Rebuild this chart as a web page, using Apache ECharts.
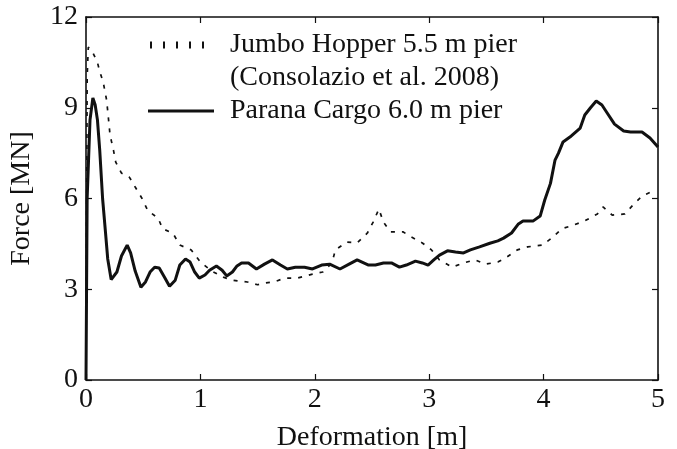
<!DOCTYPE html>
<html>
<head>
<meta charset="utf-8">
<script src="https://cdn.jsdelivr.net/npm/echarts@6/dist/echarts.min.js"></script>
<style>html,body{margin:0;padding:0;background:#fff}#c{width:677px;height:449px}</style>
</head>
<body>
<div id="c"></div>
<script>
var xTicks = [0, 1, 2, 3, 4, 5];
var yTicks = [0, 3, 6, 9, 12];
var seriesNames = ['Jumbo Hopper 5.5 m pier', 'Parana Cargo 6.0 m pier'];
var legendSubline = '(Consolazio et al. 2008)';
var xAxisTitle = 'Deformation [m]';
var yAxisTitle = 'Force [MN]';

var jumboX = [0, 0.005, 0.01, 0.02, 0.05, 0.1, 0.12, 0.15, 0.18, 0.2, 0.21, 0.24, 0.26, 0.31, 0.38, 0.43, 0.49, 0.54, 0.63, 0.67, 0.76, 0.82, 0.92, 1.0, 1.1, 1.2, 1.28, 1.41, 1.5, 1.55, 1.64, 1.74, 1.85, 1.98, 2.07, 2.15, 2.18, 2.28, 2.37, 2.46, 2.51, 2.56, 2.6, 2.66, 2.77, 2.83, 2.94, 3.02, 3.09, 3.2, 3.3, 3.4, 3.49, 3.6, 3.68, 3.77, 3.86, 3.99, 4.07, 4.16, 4.26, 4.36, 4.47, 4.52, 4.6, 4.71, 4.78, 4.86, 4.93];
var jumboY = [0, 5.0, 10.0, 11.0, 10.9, 10.5, 10.2, 9.85, 9.26, 8.5, 8.1, 7.6, 7.2, 6.84, 6.7, 6.38, 6.0, 5.6, 5.35, 5.0, 4.85, 4.46, 4.3, 3.9, 3.6, 3.4, 3.3, 3.24, 3.15, 3.2, 3.24, 3.37, 3.37, 3.5, 3.57, 3.87, 4.3, 4.56, 4.53, 4.86, 5.22, 5.65, 5.22, 4.9, 4.9, 4.76, 4.53, 4.3, 3.97, 3.73, 3.87, 3.97, 3.83, 3.9, 4.07, 4.3, 4.4, 4.46, 4.69, 5.0, 5.12, 5.26, 5.49, 5.72, 5.45, 5.49, 5.78, 6.08, 6.2];

var paranaX = [0, 0.01, 0.035, 0.06, 0.08, 0.1, 0.12, 0.145, 0.17, 0.19, 0.22, 0.27, 0.31, 0.36, 0.39, 0.43, 0.48, 0.52, 0.56, 0.6, 0.64, 0.69, 0.73, 0.78, 0.82, 0.87, 0.91, 0.95, 0.99, 1.04, 1.08, 1.14, 1.19, 1.23, 1.28, 1.32, 1.36, 1.42, 1.49, 1.56, 1.63, 1.7, 1.76, 1.83, 1.91, 1.98, 2.06, 2.13, 2.22, 2.3, 2.37, 2.47, 2.53, 2.6, 2.67, 2.74, 2.8, 2.88, 2.94, 2.99, 3.04, 3.09, 3.16, 3.23, 3.3, 3.36, 3.44, 3.53, 3.6, 3.65, 3.72, 3.78, 3.82, 3.91, 3.97, 4.01, 4.06, 4.1, 4.13, 4.17, 4.23, 4.32, 4.36, 4.41, 4.46, 4.51, 4.55, 4.62, 4.7, 4.76, 4.86, 4.93, 5.0];
var paranaY = [0, 6.0, 8.6, 9.32, 9.1, 8.6, 7.6, 6.0, 4.9, 4.0, 3.32, 3.57, 4.1, 4.46, 4.2, 3.6, 3.07, 3.24, 3.57, 3.73, 3.7, 3.37, 3.1, 3.3, 3.8, 4.0, 3.9, 3.57, 3.37, 3.47, 3.63, 3.77, 3.63, 3.44, 3.57, 3.77, 3.87, 3.87, 3.67, 3.83, 3.97, 3.8, 3.67, 3.73, 3.73, 3.67, 3.8, 3.83, 3.67, 3.83, 3.97, 3.8, 3.8, 3.87, 3.87, 3.73, 3.8, 3.93, 3.87, 3.8, 3.97, 4.13, 4.27, 4.23, 4.2, 4.3, 4.4, 4.52, 4.6, 4.69, 4.86, 5.16, 5.26, 5.26, 5.42, 5.95, 6.5, 7.27, 7.5, 7.87, 8.03, 8.33, 8.76, 9.0, 9.22, 9.09, 8.86, 8.46, 8.23, 8.2, 8.2, 8.0, 7.7];

function pairs(xs, ys) { return xs.map(function (x, i) { return [x, ys[i]]; }); }

var FONT = '"Liberation Serif", "Times New Roman", serif';
var FS = 28;
var INK = '#111';

var chart = echarts.init(document.getElementById('c'), null, {renderer: 'canvas'});
var frameAxis = {
  type: 'value',
  axisLine: {show: true, onZero: false, lineStyle: {color: INK, width: 1.6}},
  axisTick: {show: true, inside: true, length: 6, lineStyle: {color: INK, width: 1.2}},
  splitLine: {show: false}
};
chart.setOption({
  animation: false,
  backgroundColor: '#fff',
  grid: {left: 86, right: 19, top: 17, bottom: 69, containLabel: false, outerBoundsMode: 'none'},
  xAxis: [
    Object.assign({}, frameAxis, {
      min: xTicks[0], max: xTicks[xTicks.length - 1], interval: 1, position: 'bottom',
      name: xAxisTitle, nameLocation: 'middle', nameGap: 44,
      nameTextStyle: {fontFamily: FONT, fontSize: FS, color: INK},
      axisLabel: {fontFamily: FONT, fontSize: FS, color: INK, margin: 6}
    }),
    Object.assign({}, frameAxis, {
      min: xTicks[0], max: xTicks[xTicks.length - 1], interval: 1, position: 'top',
      axisLabel: {show: false}
    })
  ],
  yAxis: [
    Object.assign({}, frameAxis, {
      min: yTicks[0], max: yTicks[yTicks.length - 1], interval: 3, position: 'left',
      name: yAxisTitle, nameLocation: 'middle', nameGap: 50, nameRotate: 90,
      nameTextStyle: {fontFamily: FONT, fontSize: FS, color: INK},
      axisLabel: {fontFamily: FONT, fontSize: FS, color: INK, margin: 8}
    }),
    Object.assign({}, frameAxis, {
      min: yTicks[0], max: yTicks[yTicks.length - 1], interval: 3, position: 'right',
      axisLabel: {show: false}
    })
  ],
  legend: [
    {
      data: [{name: seriesNames[0], icon: 'path://M0,0h2v7h-2z M13,0h2v7h-2z M26,0h2v7h-2z M39,0h2v7h-2z M52,0h2v7h-2z'}],
      left: 150, top: 31, padding: 0, itemWidth: 54, itemHeight: 7, selectedMode: false,
      itemStyle: {color: INK},
      textStyle: {fontFamily: FONT, fontSize: FS, color: INK, padding: [0, 0, 0, 21]}
    },
    {
      data: [{name: seriesNames[1], icon: 'path://M0,0h66v3h-66z'}],
      left: 148, top: 97, padding: 0, itemWidth: 66, itemHeight: 3, selectedMode: false,
      itemStyle: {color: INK},
      textStyle: {fontFamily: FONT, fontSize: FS, color: INK, padding: [0, 0, 0, 11]}
    }
  ],
  graphic: [{
    type: 'text', left: 230, top: 64,
    style: {text: legendSubline, font: FS + 'px ' + FONT, fill: INK}
  }],
  series: [
    {
      name: seriesNames[0], type: 'line', xAxisIndex: 0, yAxisIndex: 0,
      data: pairs(jumboX, jumboY), showSymbol: false, symbol: 'none',
      lineStyle: {color: INK, width: 1.7, type: [4, 7]}, itemStyle: {color: INK}
    },
    {
      name: seriesNames[1], type: 'line', xAxisIndex: 0, yAxisIndex: 0,
      data: pairs(paranaX, paranaY), showSymbol: false, symbol: 'none',
      lineStyle: {color: INK, width: 3}, itemStyle: {color: INK}
    }
  ]
});
</script>
</body>
</html>
